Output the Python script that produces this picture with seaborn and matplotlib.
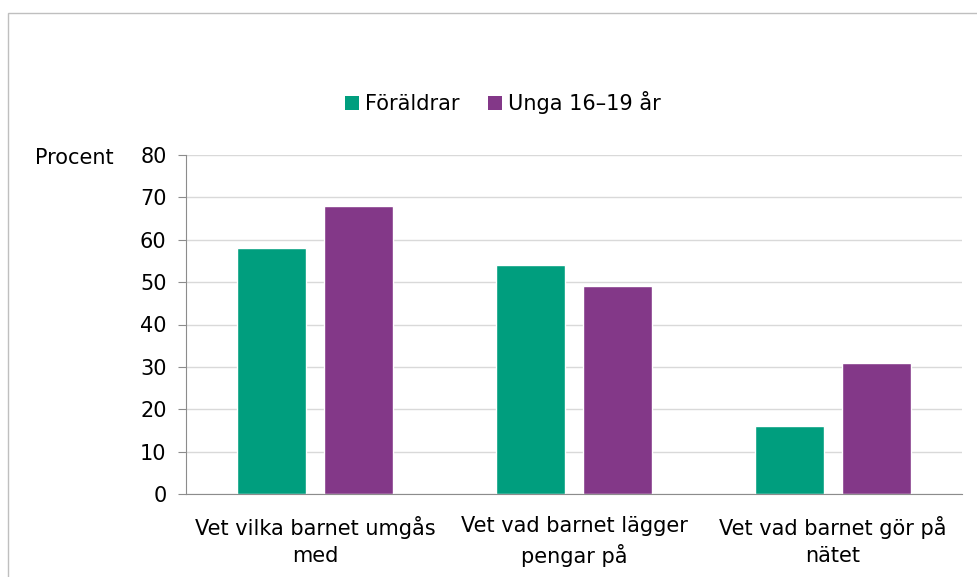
import pandas as pd
import matplotlib
matplotlib.use("Agg")
import matplotlib.pyplot as plt
import seaborn as sns
from matplotlib.patches import Rectangle, Patch

# Data
categories = ["Vet vilka barnet umgås\nmed",
              "Vet vad barnet lägger\npengar på",
              "Vet vad barnet gör på\nnätet"]
foraldrar = [58, 54, 16]
unga = [68, 49, 31]
series_names = ["Föräldrar", "Unga 16–19 år"]
y_ticks = [0, 10, 20, 30, 40, 50, 60, 70, 80]

colors = {"Föräldrar": "#009E7E", "Unga 16–19 år": "#833888"}

df = pd.DataFrame({
    "kategori": categories * 2,
    "grupp": [series_names[0]] * 3 + [series_names[1]] * 3,
    "procent": foraldrar + unga,
})

sns.set_style("white")
plt.rcParams["font.family"] = ["DejaVu Sans"]
plt.rcParams["text.color"] = "black"

fig = plt.figure(figsize=(9.78, 5.77), dpi=100)
ax = fig.add_axes([186 / 978, 1 - 494 / 577, (962 - 186) / 978, (494 - 155) / 577])

sns.barplot(data=df, x="kategori", y="procent", hue="grupp",
            hue_order=series_names, order=categories, palette=colors,
            width=0.673, gap=0.207, ax=ax, legend=False, saturation=1)

ax.set_ylim(0, 80)
ax.set_yticks(y_ticks)
ax.set_xlim(-0.5, 2.5)
ax.set_xlabel("")
ax.set_ylabel("")
ax.yaxis.grid(True, color="#D9D9D9", lw=1)
ax.set_axisbelow(True)
for s in ["top", "right"]:
    ax.spines[s].set_visible(False)
ax.spines["left"].set_color("#8C8C8C")
ax.spines["bottom"].set_color("#8C8C8C")
ax.tick_params(axis="y", which="both", left=True, length=6, color="#8C8C8C",
               labelsize=15, pad=8, labelcolor="black")
ax.tick_params(axis="x", bottom=False, labelsize=15, pad=12, labelcolor="black")
for lbl in ax.get_xticklabels():
    lbl.set_linespacing(1.45)

fig.text(35 / 978, 1 - 158 / 577, "Procent", fontsize=15, va="center", ha="left")

handles = [Patch(facecolor=colors[n], edgecolor="none") for n in series_names]
fig.legend(handles, series_names, loc="center", bbox_to_anchor=(503 / 978, 1 - 103 / 577),
           ncol=2, frameon=False, fontsize=15, handlelength=0.65, handleheight=0.65,
           handletextpad=0.3, columnspacing=1.4)

# outer chart frame
fig.patches.append(Rectangle((8 / 978, -0.1), 1.2, 1 - 12.5 / 577 + 0.1,
                             transform=fig.transFigure, fill=False,
                             edgecolor="#BFBFBF", lw=1))

fig.savefig("out.png", dpi=100)
